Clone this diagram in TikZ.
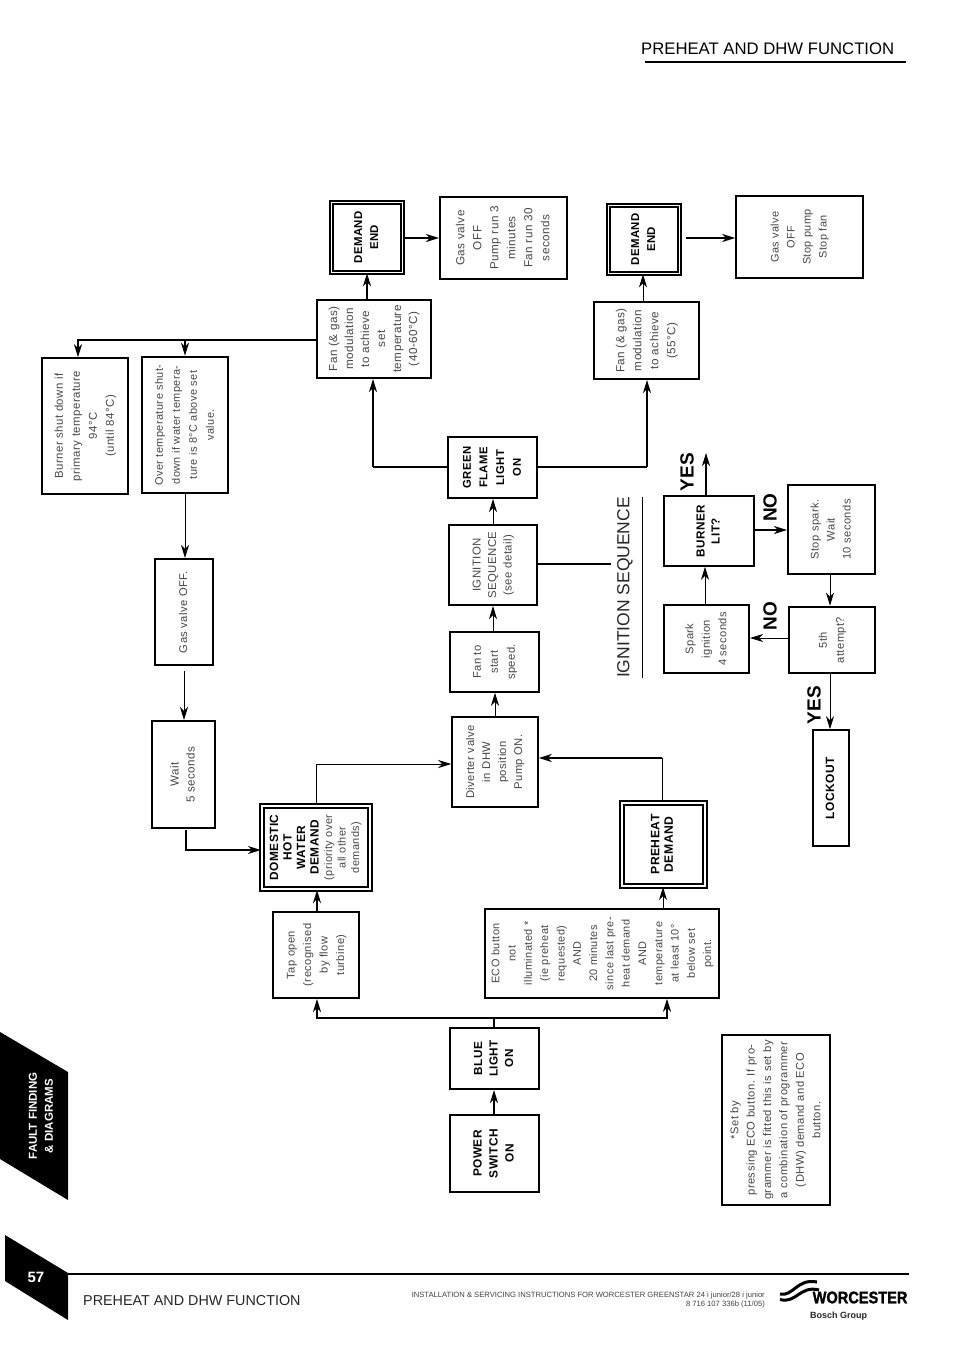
\documentclass[tikz,border=0pt]{standalone}
\usepackage{fontspec}
\usepackage{graphicx}
\setmainfont{Liberation Sans}
\newfontfamily\tracked[LetterSpace=4]{Liberation Sans}
\newfontfamily\heavyfont[FakeBold=1.6]{Liberation Sans}
\usetikzlibrary{arrows.meta,positioning}
\newcommand{\rtext}[3]{\rotatebox{90}{\tracked\fontsize{\fpeval{#1*.95}}{#2}\selectfont\begin{tabular}{@{}c@{}}#3\end{tabular}}}
\newcommand{\bb}[1]{\textcolor{black}{\bfseries #1}}
\tikzset{
 x=1pt,y=-1pt,
 txt/.style={text=black!72},
 box/.style={draw=black,line width=2pt,inner sep=0pt,txt,fill=white},
 thinbox/.style={box,line width=1.1pt},
 midbox/.style={box,line width=1.5pt},
 thickbox/.style={box,line width=2.6pt},
 dbl/.style={box,double=white,double distance=1.8pt,line width=1.6pt},
 dblh/.style={box,double=white,double distance=2pt,line width=2.3pt},
 conn/.style={line width=1pt,-{Stealth[length=13pt,width=8pt,inset=4pt]}},
 conb/.style={line width=2pt,-{Stealth[length=13pt,width=8pt,inset=4pt]}},
 seg/.style={line width=2pt},
 lbl/.style={inner sep=0pt,font=\bfseries\fontsize{19}{19}\selectfont,rotate=90},
}
% name, x1,y1,x2,y2, style, text
\newcommand{\bx}[7]{\node[#6,minimum width=#4pt-#2pt,minimum height=#5pt-#3pt] (#1) at ({(#2+#4)/2},{(#3+#5)/2}) {#7};}
\begin{document}
\begin{tikzpicture}
\useasboundingbox (0,0) rectangle (954,1351);
\fill[white] (0,0) rectangle (954,1351);
% header
\node[anchor=west,inner sep=0pt,text=black] (hdr) at (641,49) {\fontsize{16.7}{18}\selectfont PREHEAT AND DHW FUNCTION};
\coordinate (hl) at (645,62.5); \coordinate (hr) at (906,62.5);
\draw[line width=2pt] (hl) -- (hr);
% boxes
\bx{de1}{331.5}{202.5}{402.5}{272.5}{dbl}{\rtext{12}{16}{\bb{DEMAND}\\\bb{END}}}
\bx{gas1}{440}{197}{567}{279}{box}{\rtext{12.3}{17}{Gas valve\\OFF\\Pump run 3\\minutes\\Fan run 30\\seconds}}
\bx{fan1}{317}{300}{431}{378}{box}{\rtext{12.3}{16}{Fan (\& gas)\\modulation\\to achieve\\set\\temperature\\(40-60°C)}}
\bx{de2}{608.5}{205.5}{679.5}{273.5}{dbl}{\rtext{12}{16}{\bb{DEMAND}\\\bb{END}}}
\bx{gas2}{736}{196}{863}{278}{midbox}{\rtext{11.5}{16}{Gas valve\\OFF\\Stop pump\\Stop fan}}
\bx{fan2}{594}{302}{699}{379}{box}{\rtext{12.3}{17}{Fan (\& gas)\\modulation\\to achieve\\(55°C)}}
\bx{shut}{42}{358}{128}{494}{midbox}{\rtext{12}{17}{Burner shut down if\\primary temperature\\94°C\\(until 84°C)}}
\bx{over}{142}{357}{228}{493}{thickbox}{\rtext{11.5}{17}{Over temperature shut-\\down if water tempera-\\ture is 8°C above set\\value.}}
\bx{gvo}{155}{559}{213}{665}{box}{\rtext{11.8}{16}{Gas valve OFF.}}
\bx{wait}{152}{721}{215}{828}{box}{\rtext{12.2}{16}{Wait\\5 seconds}}
\bx{dhw}{262}{806}{370}{889}{dblh}{\rtext{11.5}{13.5}{\fontsize{11.9}{13.5}\selectfont\bb{DOMESTIC}\\\fontsize{11.9}{13.5}\selectfont\bb{HOT}\\\fontsize{11.9}{13.5}\selectfont\bb{WATER}\\\fontsize{11.9}{13.5}\selectfont\bb{DEMAND}\\(priority over\\all other\\demands)}}
\bx{tap}{273}{912}{359}{998}{box}{\rtext{11.7}{16.5}{Tap open\\(recognised\\by flow\\turbine)}}
\bx{div}{452}{717}{538}{807}{midbox}{\rtext{11.8}{16}{Diverter valve\\in DHW\\position\\Pump ON.}}
\bx{fstart}{450}{632}{539}{692}{midbox}{\rtext{11.8}{17}{Fan to\\start\\speed.}}
\bx{ign}{449}{525}{537}{605}{box}{\rtext{12}{15.5}{IGNITION\\SEQUENCE\\(see detail)}}
\bx{green}{448}{437}{537}{498}{box}{\rtext{11.9}{16.7}{\bb{GREEN}\\\bb{FLAME}\\\bb{LIGHT}\\\bb{ON}}}
\bx{pre}{622}{803}{705}{886}{dblh}{\rtext{12.8}{13.5}{\bb{PREHEAT}\\\bb{DEMAND}}}
\bx{eco}{485}{909}{719}{998}{midbox}{\rtext{11.5}{16.3}{ECO button\\not\\illuminated *\\(ie preheat\\requested)\\AND\\20 minutes\\since last pre-\\heat demand\\AND\\temperature\\at least 10°\\below set\\point.}}
\bx{blue}{450}{1028}{539}{1089}{box}{\rtext{12.3}{15.5}{\bb{BLUE}\\\bb{LIGHT}\\\bb{ON}}}
\bx{power}{450}{1115}{539}{1192}{box}{\rtext{12.5}{16}{\bb{POWER}\\\bb{SWITCH}\\\bb{ON}}}
\bx{note}{722}{1035}{830}{1205}{thinbox}{\rtext{11.8}{16.4}{*Set by\\pressing ECO button. If pro-\\grammer is fitted this is set by\\a combination of programmer\\(DHW) demand and ECO\\button.}}
\bx{lit}{664}{496}{754}{566}{midbox}{\rtext{12.3}{15}{\bb{BURNER}\\\bb{LIT?}}}
\bx{stop}{788}{485}{875}{574}{box}{\rtext{11.7}{16}{Stop spark.\\Wait\\10 seconds}}
\bx{spark}{664}{605}{749}{673}{box}{\rtext{11.7}{16.5}{Spark\\ignition\\4 seconds}}
\bx{fifth}{789}{607}{875}{673}{thickbox}{\rtext{11.7}{17}{5th\\attempt?}}
\bx{lock}{813}{730}{849}{846}{midbox}{\rtext{12.6}{15}{\bb{LOCKOUT}}}
% connectors
\draw[conb] (power.north -| 494,0) -- (blue.south -| 494,0);
\coordinate (bj) at (494,1018);
\draw[seg] (blue.north -| bj) -- (bj);
\draw[conb] (bj) -| (tap.south -| 317,0);
\draw[conb] (bj) -| (eco.south -| 667,0);
\draw[conb] (tap.north -| 317,0) -- (dhw.south -| 317,0);
\draw[conn] (eco.north -| 663,0) -- (pre.south -| 663,0);
\draw[conn] (dhw.north -| 316,0) |- (div.west |- 0,764);
\coordinate (pj) at (662,758);
\draw[line width=1pt] (pre.north -| pj) -- (pj);
\draw[conb] (pj) -- (div.east |- pj);
\draw[conn] (div.north -| 495,0) -- (fstart.south -| 495,0);
\draw[conn] (fstart.north -| 493,0) -- (ign.south -| 493,0);
\draw[conn] (ign.north -| 493,0) -- (green.south -| 493,0);
\coordinate (g1) at (373,467); \coordinate (g2) at (647,467);
\draw[seg] (green.west |- g1) -- (g1);
\draw[conn,line width=1.2pt] (g1) -- (fan1.south -| g1);
\draw[seg] (green.east |- g2) -- (g2);
\draw[conb,line width=1.6pt] (g2) -- (fan2.south -| g2);
\draw[conb] (fan1.north -| 367,0) -- (de1.south -| 367,0);
\draw[conb] (de1.east |- 0,238) -- (gas1.west |- 0,238);
\draw[conn] (fan2.north -| 643,0) -- (de2.south -| 643,0);
\coordinate (d2o) at (686,238);
\draw[conb] (d2o) -- (gas2.west |- d2o);
\coordinate (fj) at (185,340);
\draw[conb] (fan1.west |- fj) -| (shut.north -| 78,0);
\draw[conb] (fj) -- (over.north -| fj);
\draw[conn] (over.south -| fj) -- (gvo.north -| fj);
\coordinate (gvj) at (184,671);
\draw[conn] (gvj) -- (wait.north -| gvj);
\coordinate (wj) at (186,830);
\draw[conb,line width=1.7pt] (wj) |- (dhw.west |- 0,850);
\coordinate (iseq) at (611,564);
\draw[seg] (ign.east |- iseq) -- (iseq);
\coordinate (yesend) at (706,453);
\draw[conb] (lit.north -| yesend) -- (yesend);
\draw[conb] (lit.east |- 0,530) -- (stop.west |- 0,530);
\draw[conn] (stop.south -| 830,0) -- (fifth.north -| 830,0);
\draw[conn] (fifth.west |- 0,638) -- (spark.east |- 0,638);
\draw[conn] (spark.north -| 705,0) -- (lit.south -| 705,0);
\draw[conn] (fifth.south -| 830,0) -- (lock.north -| 830,0);
% ignition title
\node[rotate=90,inner sep=0pt,text=black!85] (ititle) at (625,587.5) {\fontsize{17.5}{19}\selectfont IGNITION SEQUENCE};
\coordinate (il1) at (642,497); \coordinate (il2) at (642,678);
\draw[line width=.9pt] (il1) -- (il2);
\node[lbl] (y1) at (687,472) {YES};
\node[lbl] (n1) at (770,507.5) {NO};
\node[lbl] (n2) at (770,616) {NO};
\node[lbl] (y2) at (814,705) {YES};
% side tabs
\fill[black] (0,1032) -- (68,1072) -- (68,1200) -- (0,1159) -- cycle;
\node[rotate=90,inner sep=0pt,text=white,align=center,font=\bfseries\fontsize{11.5}{16}\selectfont] (tab) at (41,1116) {FAULT FINDING\\\& DIAGRAMS};
\fill[black] (5,1235) -- (68,1273) -- (68,1320) -- (5,1281) -- cycle;
\node[inner sep=0pt,text=white,font=\bfseries\fontsize{15}{15}\selectfont] (pg) at (36,1277) {57};
\coordinate (fl) at (68,1274); \coordinate (fr) at (909,1274);
\draw[line width=2pt] (fl) -- (fr);
\node[anchor=west,inner sep=0pt,text=black!85] (foot) at (83,1301) {\fontsize{14.35}{16}\selectfont PREHEAT AND DHW FUNCTION};
\node[anchor=east,inner sep=0pt,align=right,text=black!75,font=\fontsize{7.63}{9}\selectfont] (inst) at (765,1300) {INSTALLATION \& SERVICING INSTRUCTIONS FOR WORCESTER GREENSTAR 24 i junior/28 i junior\\8 716 107 336b (11/05)};
% logo
\draw[line width=3pt] (780,1294) .. controls (793,1297) and (797,1278) .. (817,1282);
\draw[line width=3pt] (780,1299.5) .. controls (796,1304) and (800,1285) .. (819,1290);
\node[anchor=west,inner sep=0pt,text=black,font=\bfseries\fontsize{16.7}{20}\selectfont] (wor) at (812.5,1297.5) {\scalebox{.873}[1]{\heavyfont\bfseries WORCESTER}};
\node[anchor=west,inner sep=0pt,text=black!85,font=\bfseries\fontsize{9}{11}\selectfont] (bg) at (810,1316.5) {Bosch Group};
\end{tikzpicture}
\end{document}
